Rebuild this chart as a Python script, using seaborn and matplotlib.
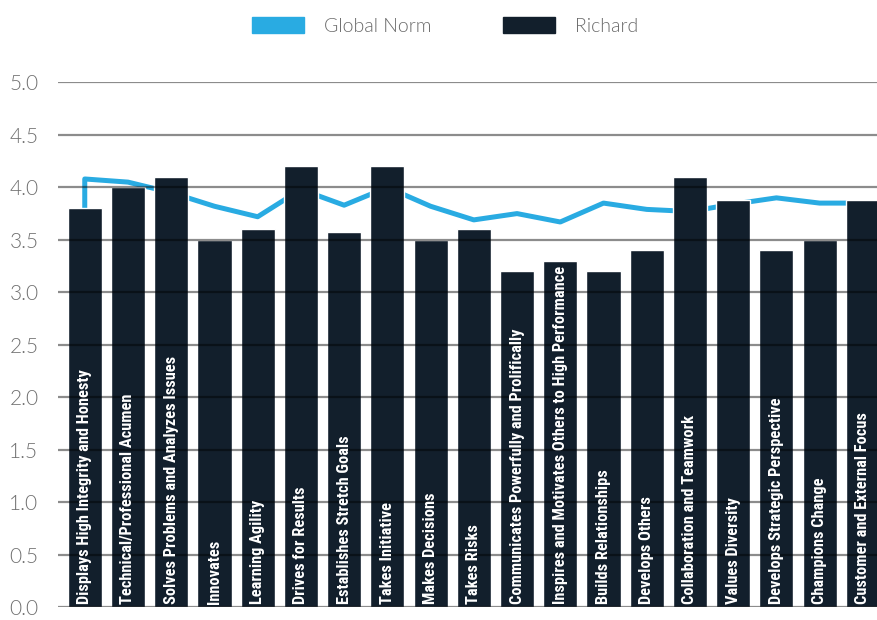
import matplotlib
matplotlib.use("Agg")
import matplotlib.pyplot as plt
import seaborn as sns
import pandas as pd
from matplotlib.patches import Patch

sns.set_theme(style="white")
plt.rcParams['font.family'] = ['Lato', 'DejaVu Sans']

competencies = [
    "Displays High Integrity and Honesty",
    "Technical/Professional Acumen",
    "Solves Problems and Analyzes Issues",
    "Innovates",
    "Learning Agility",
    "Drives for Results",
    "Establishes Stretch Goals",
    "Takes Initiative",
    "Makes Decisions",
    "Takes Risks",
    "Communicates Powerfully and Prolifically",
    "Inspires and Motivates Others to High Performance",
    "Builds Relationships",
    "Develops Others",
    "Collaboration and Teamwork",
    "Values Diversity",
    "Develops Strategic Perspective",
    "Champions Change",
    "Customer and External Focus",
]
richard = [3.8, 4.0, 4.1, 3.5, 3.6, 4.2, 3.57, 4.2, 3.5, 3.6, 3.2, 3.3, 3.2, 3.4, 4.1, 3.88, 3.4, 3.5, 3.88]
global_norm = [4.08, 4.05, 3.95, 3.82, 3.72, 3.98, 3.83, 4.0, 3.82, 3.69, 3.75, 3.67, 3.85, 3.79, 3.77, 3.84, 3.9, 3.85, 3.85]

BLUE = "#29ABE2"
DARK = "#121F2C"

df = pd.DataFrame({"competency": competencies, "Richard": richard, "Global Norm": global_norm})
df["pos"] = range(len(df))

fig = plt.figure(figsize=(8.78, 6.2), dpi=100)
ax = fig.add_axes([0.066, 0.021, 0.934, 0.846])

# norm line starts from the baseline of the first category
line_x = [0] + list(df["pos"])
line_y = [0] + list(df["Global Norm"])
sns.lineplot(x=line_x, y=line_y, ax=ax, color=BLUE, linewidth=3.6, sort=False,
             estimator=None, zorder=1)

ax.bar(df["pos"], df["Richard"], width=0.79, color=DARK, zorder=2)

for i, name in enumerate(competencies):
    ax.text(i, 0.03, name, rotation=90, ha="center", va="bottom", color="white",
            fontsize=11.8, fontweight="bold", family=['Roboto Condensed', 'DejaVu Sans'], zorder=4)

ax.set_ylim(0, 5)
ax.set_xlim(-0.62, 18.35)
ax.set_yticks([0, 0.5, 1, 1.5, 2, 2.5, 3, 3.5, 4, 4.5, 5])
ax.set_yticklabels([f"{v:.1f}" for v in ax.get_yticks()], color="#707070", fontsize=15, fontweight=300)
ax.set_xticks([])
ax.tick_params(axis="y", length=0, pad=14)
for v in ax.get_yticks():
    ax.axhline(v, color="black", alpha=0.45, linewidth=1.6, zorder=3)
for s in ax.spines.values():
    s.set_visible(False)
ax.set_xlabel("")
ax.set_ylabel("")

handles = [Patch(color=BLUE, label="Global Norm"), Patch(color=DARK, label="Richard")]
fig.legend(handles=handles, loc="upper center", bbox_to_anchor=(0.507, 1.0), ncol=2, frameon=False,
           prop={"family": "Lato", "weight": 300, "size": 14}, handlelength=2.68, handleheight=0.88,
           columnspacing=3.66, handletextpad=1.03, labelcolor="#6b6b6b")

fig.savefig("out.png", dpi=100)
